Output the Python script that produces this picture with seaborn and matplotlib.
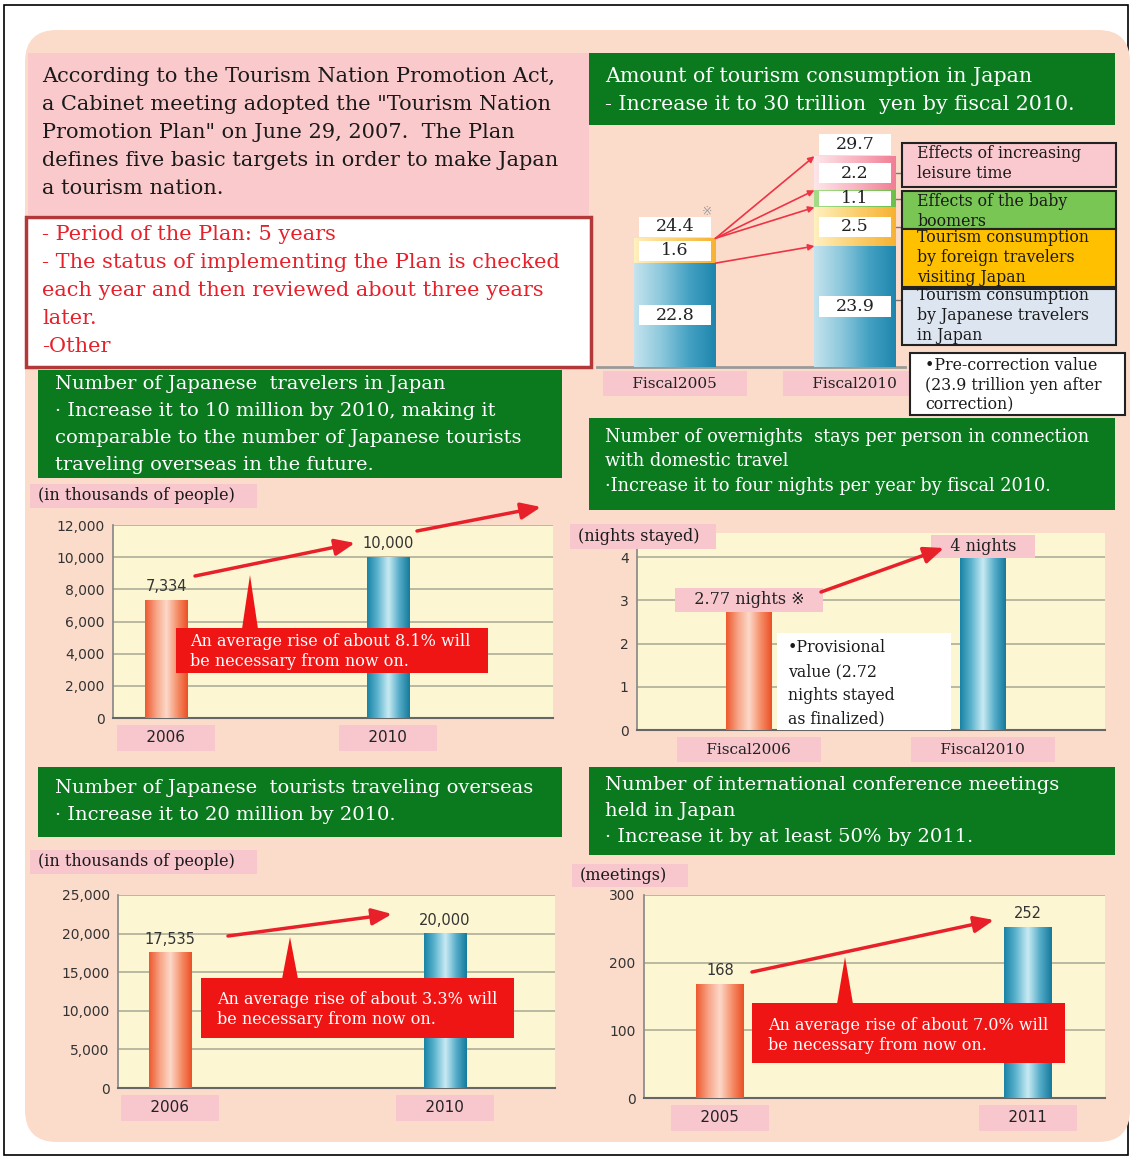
import numpy as np
import pandas as pd
import matplotlib
matplotlib.use("Agg")
import matplotlib.pyplot as plt
import seaborn as sns
from matplotlib.patches import Rectangle, FancyBboxPatch, Polygon
from matplotlib.colors import LinearSegmentedColormap

sns.set_theme(style="white")
plt.rcParams['font.family'] = ['DejaVu Serif', 'DejaVu Sans']

# ---- data ----
cons_years = ["Fiscal2005", "Fiscal2010"]
cons_japanese = [22.8, 23.9]
cons_foreign = [1.6, 2.5]
cons_baby = [0.0, 1.1]
cons_leisure = [0.0, 2.2]
cons_axis_start = 16.1      # value axis of this chart is cut off

trav_years = ["2006", "2010"]
trav_values = [7334, 10000]

night_years = ["Fiscal2006", "Fiscal2010"]
night_values = [2.77, 4]
night_labels = ["2.77 nights ※", "4 nights"]

over_years = ["2006", "2010"]
over_values = [17535, 20000]

meet_years = ["2005", "2011"]
meet_values = [168, 252]

# ---- look ----
W, H = 1132, 1158
PEACH = '#fbdccb'
PINK = '#f9c9cc'
LABEL_PINK = '#f8c6cd'
GREEN = '#0b7a1f'
RED = '#f01515'
ARROW = '#e8202a'
CHART_BG = '#fdf6d3'
ORANGE_BAR = ['#ee5a30', '#f7a385', '#fdd9ca', '#f5916c', '#ec5026']
BLUE_BAR = ['#1a84a6', '#5fb5cf', '#c9ebf3', '#58aeca', '#167b9d']
JAPAN_G = ['#c4e3ee', '#8cc8dc', '#45a2c3', '#1f86ad']
FOREIGN_G = ['#fff0c0', '#fbd070', '#f7b232']
BABY_G = ['#a5dc88', '#6cc04a']
LEISURE_G = ['#fde6ea', '#f9b5c2', '#f27e95']

fig = plt.figure(figsize=(W / 100, H / 100), dpi=100)


def frame(x0, y0, x1, y1):
    return [x0 / W, 1 - y1 / H, (x1 - x0) / W, (y1 - y0) / H]


def pixel_axes(z):
    a = fig.add_axes([0, 0, 1, 1], zorder=z)
    a.set_xlim(0, W)
    a.set_ylim(H, 0)
    a.axis('off')
    a.patch.set_alpha(0)
    return a


def shade(ax, patch, colors, z):
    x0, y0 = patch.get_x(), patch.get_y()
    w, h = patch.get_width(), patch.get_height()
    cmap = LinearSegmentedColormap.from_list('g', colors)
    ax.imshow(np.linspace(0, 1, 64).reshape(1, -1), cmap=cmap, aspect='auto',
              extent=(x0, x0 + w, y0, y0 + h), zorder=z, interpolation='bilinear')
    patch.set_alpha(0)


def text_lines(ax, x, y, step, lines, **kw):
    for i, s in enumerate(lines):
        ax.text(x, y + i * step, s, va='center', ha='left', **kw)


def pink_ticks(ax, cats, family, size=11):
    ax.set_xticks(range(len(cats)))
    ax.set_xticklabels([f"     {c}     " for c in cats], fontsize=size,
                       family=family, color='#222')
    for lab in ax.get_xticklabels():
        lab.set_bbox(dict(boxstyle='square,pad=0.35', fc=LABEL_PINK, ec='none'))
    ax.set_xlabel('')
    ax.set_ylabel('')


# ---- background panels ----
bg = pixel_axes(0)
bg.add_patch(Rectangle((4, 5), 1124, 1150, fill=False, ec='black', lw=1.2))
bg.add_patch(FancyBboxPatch((25, 30), 1105, 1112, boxstyle='round,pad=0,rounding_size=32',
                            fc=PEACH, ec='none'))
bg.add_patch(Rectangle((28, 53), 561, 162, fc=PINK, ec='none'))
bg.add_patch(Rectangle((26, 217), 565, 150, fc='white', ec='#b3383a', lw=2.5))

text_lines(bg, 42, 77, 28, [
    'According to the Tourism Nation Promotion Act,',
    'a Cabinet meeting adopted the "Tourism Nation',
    'Promotion Plan" on June 29, 2007.  The Plan',
    'defines five basic targets in order to make Japan',
    'a tourism nation.'], fontsize=15, color='#1a1a1a')
text_lines(bg, 42, 235, 28, [
    '- Period of the Plan: 5 years',
    '- The status of implementing the Plan is checked',
    'each year and then reviewed about three years',
    'later.',
    '-Other'], fontsize=15, color='#e8202a')

headers = [
    ((589, 53, 1115, 125), 605, 77, 27, 14.8,
     ['Amount of tourism consumption in Japan',
      '- Increase it to 30 trillion  yen by fiscal 2010.']),
    ((38, 370, 562, 478), 55, 384, 27, 14,
     ['Number of Japanese  travelers in Japan',
      '· Increase it to 10 million by 2010, making it',
      'comparable to the number of Japanese tourists',
      'traveling overseas in the future.']),
    ((589, 418, 1115, 510), 605, 437, 24.5, 12.8,
     ['Number of overnights  stays per person in connection',
      'with domestic travel',
      '·Increase it to four nights per year by fiscal 2010.']),
    ((38, 767, 562, 837), 55, 788, 27, 14,
     ['Number of Japanese  tourists traveling overseas',
      '· Increase it to 20 million by 2010.']),
    ((589, 767, 1115, 855), 605, 785, 26, 14,
     ['Number of international conference meetings',
      'held in Japan',
      '· Increase it by at least 50% by 2011.']),
]
for (x0, y0, x1, y1), tx, ty, step, size, lines in headers:
    bg.add_patch(Rectangle((x0, y0), x1 - x0, y1 - y0, fc=GREEN, ec='none'))
    text_lines(bg, tx, ty, step, lines, fontsize=size, color='white')


# ---- simple two-bar target charts ----
def target_chart(box, cats, vals, ymax, yticks, xlim, width, fmt, tick_family,
                 value_labels=True):
    ax = fig.add_axes(frame(*box), zorder=2)
    df = pd.DataFrame({'year': cats, 'value': vals})
    sns.barplot(data=df, x='year', y='value', hue='year',
                palette=[ORANGE_BAR[0], BLUE_BAR[0]], width=width,
                saturation=1, legend=False, ax=ax)
    for p, cols in zip(ax.patches, [ORANGE_BAR, BLUE_BAR]):
        shade(ax, p, cols, 3)
    ax.set_xlim(*xlim)
    ax.set_ylim(0, ymax)
    ax.set_facecolor(CHART_BG)
    ax.set_yticks(yticks)
    ax.set_yticklabels([fmt(t) for t in yticks], family='DejaVu Sans',
                       fontsize=10, color='#333')
    ax.grid(axis='y', color='#b3b49e', lw=1.3)
    ax.set_axisbelow(True)
    for s in ['top', 'right']:
        ax.spines[s].set_visible(False)
    ax.spines['left'].set_color('#8a8a8a')
    ax.spines['bottom'].set_color('#666')
    ax.spines['bottom'].set_linewidth(1.5)
    ax.tick_params(axis='y', length=0, pad=6)
    ax.tick_params(axis='x', length=0, pad=9)
    pink_ticks(ax, cats, tick_family)
    if value_labels:
        for i, v in enumerate(vals):
            ax.text(i, v + ymax * 0.03, fmt(v), ha='center', va='bottom',
                    family='DejaVu Sans', fontsize=10.5, color='#333', zorder=5)
    return ax


ax1 = target_chart((113, 525, 553, 718), trav_years, trav_values, 12000,
                   range(0, 12001, 2000), (-0.239, 1.743), 0.19,
                   lambda v: f"{v:,.0f}", 'DejaVu Sans')
ax2 = target_chart((637, 533, 1105, 730), night_years, night_values, 4.555,
                   range(0, 5), (-0.479, 1.521), 0.195,
                   lambda v: f"{v:g}", 'DejaVu Serif', value_labels=False)
for i, (v, lab) in enumerate(zip(night_values, night_labels)):
    ax2.text(i, v + 0.24, f"   {lab}   ", ha='center', va='center', fontsize=11.5,
             color='#222', zorder=6,
             bbox=dict(boxstyle='square,pad=0.2', fc=LABEL_PINK, ec='none'))
ax3 = target_chart((118, 895, 555, 1088), over_years, over_values, 25000,
                   range(0, 25001, 5000), (-0.189, 1.4), 0.153,
                   lambda v: f"{v:,.0f}", 'DejaVu Sans')
ax4 = target_chart((644, 895, 1105, 1098), meet_years, meet_values, 300,
                   range(0, 301, 100), (-0.247, 1.25), 0.154,
                   lambda v: f"{v:,.0f}", 'DejaVu Sans')

# ---- stacked tourism consumption chart ----
cax = fig.add_axes(frame(597, 130, 905, 367), zorder=2)
cum1 = np.array(cons_japanese)
cum2 = cum1 + np.array(cons_foreign)
cum3 = cum2 + np.array(cons_baby)
cum4 = cum3 + np.array(cons_leisure)
bw = 0.45
for k, (tops, cols) in enumerate([(cum4, LEISURE_G), (cum3, BABY_G),
                                  (cum2, FOREIGN_G), (cum1, JAPAN_G)]):
    n = len(cax.patches)
    sns.barplot(x=cons_years, y=tops, color=cols[-1], width=bw, saturation=1, ax=cax)
    for p in cax.patches[n:]:
        shade(cax, p, cols, 3 + k)
cax.set_xlim(-0.433, 1.278)
cax.set_ylim(cons_axis_start, cons_axis_start + 15.29)
cax.patch.set_alpha(0)
for s in ['top', 'right', 'left']:
    cax.spines[s].set_visible(False)
cax.spines['bottom'].set_color('#9a9a9a')
cax.spines['bottom'].set_linewidth(2)
cax.set_yticks([])
cax.tick_params(axis='x', length=0, pad=7)
pink_ticks(cax, cons_years, 'DejaVu Serif', size=11)


def value_box(x, y, v, h=1.3):
    cax.add_patch(Rectangle((x - 0.2, y - h / 2), 0.4, h, fc='white', ec='none',
                            zorder=10, clip_on=False))
    cax.text(x, y, f"{v:.1f}", ha='center', va='center', fontsize=12.5,
             color='#222', zorder=11)


for i in range(len(cons_years)):
    value_box(i, (cons_axis_start + cum1[i]) / 2, cons_japanese[i])
    value_box(i, (cum1[i] + cum2[i]) / 2, cons_foreign[i])
    if cons_baby[i] > 0:
        value_box(i, (cum2[i] + cum3[i]) / 2, cons_baby[i], h=0.95)
    if cons_leisure[i] > 0:
        value_box(i, (cum3[i] + cum4[i]) / 2, cons_leisure[i])
    value_box(i, cum4[i] + 0.75, cum4[i])
cax.text(0.18, cum4[0] + 1.7, '※', color='#999', fontsize=9, ha='center',
         va='center', family='DejaVu Sans')

for t in [cum4[1], cum3[1], cum2[1]]:
    cax.annotate('', xy=(1 - bw / 2, t), xytext=(bw / 2, cum4[0]),
                 arrowprops=dict(arrowstyle='-|>', color='#ee3344', lw=1.2,
                                 mutation_scale=9, shrinkA=0, shrinkB=0), zorder=12)
cax.annotate('', xy=(1 - bw / 2, cum1[1]), xytext=(bw / 2, cum1[0]),
             arrowprops=dict(arrowstyle='-|>', color='#ee3344', lw=1.2,
                             mutation_scale=9, shrinkA=0, shrinkB=0), zorder=12)
mids = [(cum3[1] + cum4[1]) / 2, (cum2[1] + cum3[1]) / 2,
        (cum1[1] + cum2[1]) / 2, (cons_axis_start + cum1[1]) / 2 + 0.4]
for m in mids:
    cax.plot([1 + bw / 2, 1.262], [m, m], color='#777', lw=1, clip_on=False)

# ---- overlay: legend boxes, notes, callouts, arrows ----
ov = pixel_axes(20)
legend_boxes = [
    ((902, 143, 1116, 187), '#f9c9cf', ['Effects of increasing', 'leisure time'], 154),
    ((902, 191, 1116, 229), '#7ac655', ['Effects of the baby', 'boomers'], 201),
    ((902, 229, 1116, 287), '#ffc000', ['Tourism consumption', 'by foreign travelers',
                                        'visiting Japan'], 238),
    ((902, 289, 1116, 345), '#dde5f0', ['Tourism consumption', 'by Japanese travelers',
                                        'in Japan'], 296),
    ((910, 353, 1125, 415), 'white', ['•Pre-correction value', '(23.9 trillion yen after',
                                      'correction)'], 365),
]
for (x0, y0, x1, y1), fc, lines, ty in legend_boxes:
    ov.add_patch(Rectangle((x0, y0), x1 - x0, y1 - y0, fc=fc, ec='#222', lw=1.5))
    text_lines(ov, x0 + 15, ty, 20, lines, fontsize=11.3, color='#1a1a1a')

ov.add_patch(Rectangle((777, 633), 174, 97, fc='white', ec='none'))
text_lines(ov, 788, 648, 23.5, ['•Provisional', 'value (2.72', 'nights stayed',
                                'as finalized)'], fontsize=11.3, color='#1a1a1a')

units = [((30, 484, 257, 508), '(in thousands of people)'),
         ((570, 524, 716, 549), '(nights stayed)'),
         ((30, 850, 257, 874), '(in thousands of people)'),
         ((572, 864, 688, 887), '(meetings)')]
for (x0, y0, x1, y1), s in units:
    ov.add_patch(Rectangle((x0, y0), x1 - x0, y1 - y0, fc=LABEL_PINK, ec='none'))
    ov.text(x0 + 8, (y0 + y1) / 2, s, va='center', fontsize=11.5, color='#1a1a1a')

callouts = [
    ((176, 628, 488, 673), (250, 575), 190, 642, '8.1%'),
    ((201, 978, 514, 1038), (290, 937), 217, 1000, '3.3%'),
    ((752, 1003, 1065, 1063), (845, 957), 768, 1025, '7.0%'),
]
for (x0, y0, x1, y1), tip, tx, ty, pct in callouts:
    ov.add_patch(Rectangle((x0, y0), x1 - x0, y1 - y0, fc=RED, ec='none'))
    ov.add_patch(Polygon([(tip[0] - 8, y0 + 1), (tip[0] + 8, y0 + 1), tip],
                         fc=RED, ec='none'))
    text_lines(ov, tx, ty, 20, [f'An average rise of about {pct} will',
                                'be necessary from now on.'],
               fontsize=11.5, color='white')

arrows = [((195, 576), (355, 543)), ((417, 531), (541, 507)),
          ((821, 592), (944, 548)), ((228, 936), (392, 914)),
          ((752, 972), (994, 920))]
for start, end in arrows:
    ov.annotate('', xy=end, xytext=start,
                arrowprops=dict(arrowstyle='-|>,head_length=0.6,head_width=0.25',
                                color=ARROW, lw=2.5, mutation_scale=20,
                                shrinkA=0, shrinkB=0))

fig.savefig('out.png', dpi=100)
